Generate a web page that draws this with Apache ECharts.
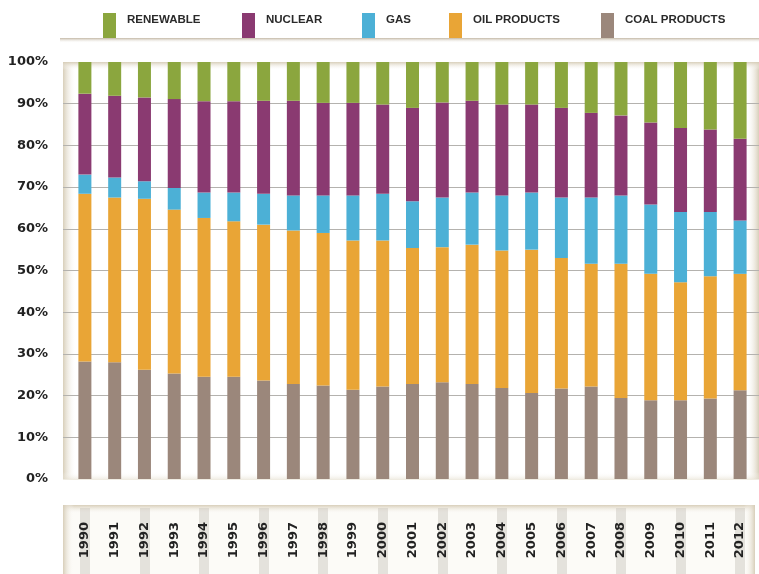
<!DOCTYPE html>
<html>
<head>
<meta charset="utf-8">
<script src="https://cdn.jsdelivr.net/npm/echarts@6/dist/echarts.min.js"></script>
<style>
html,body{margin:0;padding:0;background:#ffffff;}
#c{width:759px;height:574px;}
</style>
</head>
<body>
<div id="c"></div>
<script>
const years = ['1990','1991','1992','1993','1994','1995','1996','1997','1998','1999','2000','2001','2002','2003','2004','2005','2006','2007','2008','2009','2010','2011','2012'];
const coal      = [28.2,28.0,26.2,25.3,24.5,24.5,23.6,22.8,22.4,21.4,22.2,22.8,23.2,22.8,21.8,20.6,21.7,22.2,19.4,18.9,18.9,19.3,21.3];
const oil       = [40.2,39.5,41.0,39.3,38.1,37.3,37.4,36.8,36.6,35.8,35.0,32.6,32.4,33.4,33.0,34.4,31.3,29.4,32.2,30.3,28.3,29.3,27.9];
const gas       = [4.6,4.8,4.2,5.2,6.1,6.9,7.4,8.4,9.0,10.8,11.2,11.2,11.9,12.5,13.2,13.7,14.5,15.9,16.4,16.6,16.8,15.4,12.8];
const nuclear   = [19.4,19.6,20.1,21.3,21.9,21.9,22.3,22.7,22.2,22.2,21.4,22.4,22.8,22.0,21.8,21.1,21.5,20.3,19.2,19.7,20.2,19.8,19.6];
const renewable = [7.6,8.1,8.5,8.9,9.4,9.4,9.3,9.3,9.8,9.8,10.2,11.0,9.7,9.3,10.2,10.2,11.0,12.2,12.8,14.5,15.8,16.2,18.4];
const seriesNames = ['COAL PRODUCTS','OIL PRODUCTS','GAS','NUCLEAR','RENEWABLE'];
const legendOrder = ['RENEWABLE','NUCLEAR','GAS','OIL PRODUCTS','COAL PRODUCTS'];
const colors = {'COAL PRODUCTS':'#9b877b','OIL PRODUCTS':'#e9a536','GAS':'#4cb0d6','NUCLEAR':'#8a3a71','RENEWABLE':'#8ba63e'};
const seriesData = {'COAL PRODUCTS':coal,'OIL PRODUCTS':oil,'GAS':gas,'NUCLEAR':nuclear,'RENEWABLE':renewable};
const legendLeft = {'RENEWABLE':103,'NUCLEAR':242,'GAS':362,'OIL PRODUCTS':449,'COAL PRODUCTS':601};

const chart = echarts.init(document.getElementById('c'), null, {renderer:'canvas'});
const beige = 'rgba(214,204,182,0.95)';
const clear = 'rgba(255,255,255,0)';
function hgrad(x,y,w,h,rev){return {type:'rect',z:-10,shape:{x:x,y:y,width:w,height:h},style:{fill:new echarts.graphic.LinearGradient(rev?1:0,0,rev?0:1,0,[{offset:0,color:beige},{offset:1,color:clear}])},silent:true};}
function vgrad(x,y,w,h,rev,c){return {type:'rect',z:-10,shape:{x:x,y:y,width:w,height:h},style:{fill:new echarts.graphic.LinearGradient(0,rev?1:0,0,rev?0:1,[{offset:0,color:c||beige},{offset:1,color:clear}])},silent:true};}

const option = {
  backgroundColor:'#ffffff',
  animation:false,
  color: seriesNames.map(n=>colors[n]),
  legend: legendOrder.map(n=>({
    data:[n],
    left:legendLeft[n], top:13, padding:0,
    itemWidth:13, itemHeight:25,
    icon:'rect',
    selectedMode:false,
    formatter: name => name + '\n ',
    textStyle:{fontFamily:'Liberation Sans, Arial, sans-serif',fontWeight:'bold',fontSize:11.5,lineHeight:12,color:'#2a2a2a',padding:[0,0,0,6]}
  })),
  graphic:[
    {type:'rect',z:-11,shape:{x:63,y:62,width:696,height:417},style:{fill:'#ffffff'},silent:true},
    hgrad(63,62,13,417,false),
    hgrad(746,62,13,417,true),
    vgrad(63,62,696,8,false),
    vgrad(63,472,696,8,true,'rgba(225,218,200,0.6)'),
    {type:'rect',z:-11,shape:{x:63,y:505,width:692,height:69},style:{fill:'#fcfbf7'},silent:true},
    vgrad(63,505,692,9,false),
    hgrad(63,505,11,69,false),
    hgrad(744,505,11,69,true),
    {type:'rect',z:-10,shape:{x:60,y:38,width:699,height:5},style:{fill:new echarts.graphic.LinearGradient(0,0,0,1,[{offset:0,color:'rgba(175,160,135,0.75)'},{offset:1,color:clear}])},silent:true}
  ],
  grid:[
    {left:70,right:4,top:62,bottom:95},
    {left:63,right:0,top:62,bottom:95},
    {left:70,right:4,top:508,bottom:0}
  ],
  xAxis:[
    {type:'category',gridIndex:0,data:years,z:5,
     axisLine:{show:false},axisTick:{show:false},
     axisLabel:{rotate:90,margin:43,fontFamily:'DejaVu Sans',fontWeight:'bold',fontSize:13,color:'#222'}},
    {type:'value',gridIndex:1,min:0,max:1,show:false},
    {type:'category',gridIndex:2,data:years,z:0,
     axisLine:{show:false},axisLabel:{show:false},
     axisTick:{show:true,alignWithLabel:true,inside:true,length:66,lineStyle:{width:10,color:'rgba(200,196,186,0.45)'}}}
  ],
  yAxis:[
    {type:'value',gridIndex:0,min:0,max:100,interval:10,
     axisLine:{show:false},axisTick:{show:false},splitLine:{show:false},
     axisLabel:{formatter:'{value}%',margin:22,fontFamily:'DejaVu Sans',fontWeight:'bold',fontSize:13,color:'#222'}},
    {type:'value',gridIndex:1,min:0,max:100,interval:10,
     axisLine:{show:false},axisTick:{show:false},axisLabel:{show:false},
     splitLine:{show:true,showMinLine:false,showMaxLine:false,lineStyle:{color:'#b4b2ae',width:1}}},
    {type:'value',gridIndex:2,min:0,max:1,show:false}
  ],
  series: seriesNames.map(n=>({
    name:n,type:'bar',stack:'total',xAxisIndex:0,yAxisIndex:0,
    barWidth:13,
    itemStyle:{color:colors[n]},
    data:seriesData[n]
  }))
};
chart.setOption(option);
</script>
</body>
</html>
